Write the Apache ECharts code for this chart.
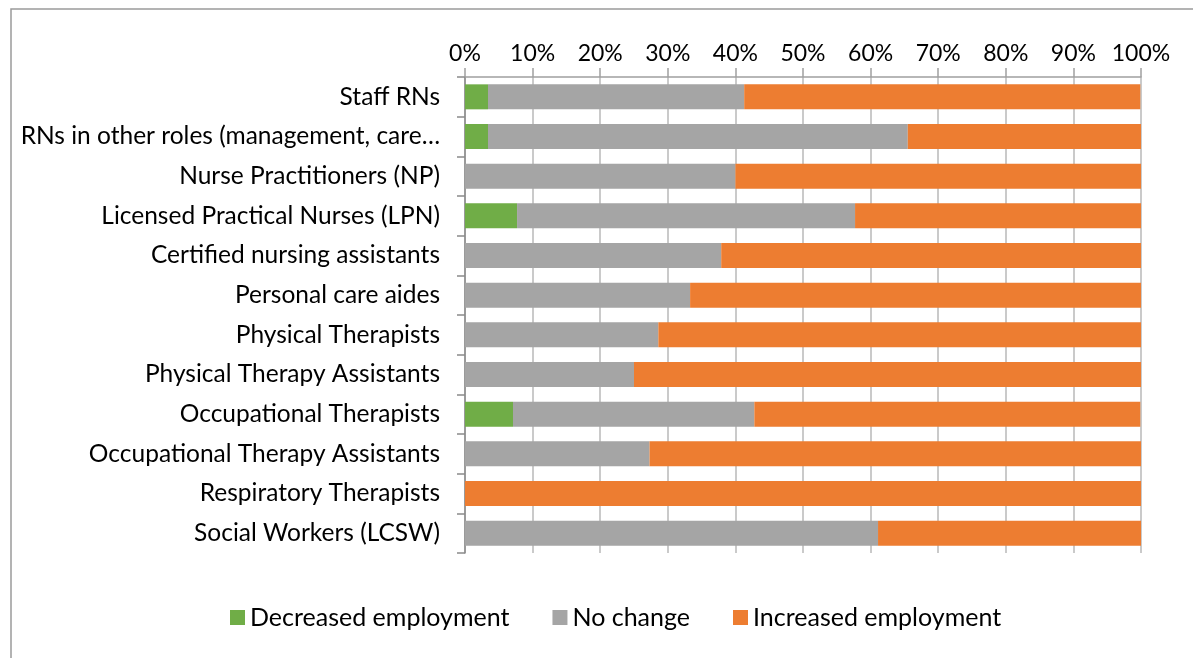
<!DOCTYPE html>
<html>
<head>
<meta charset="utf-8">
<script src="https://cdn.jsdelivr.net/npm/echarts@6/dist/echarts.min.js"></script>
<style>
  html, body { margin: 0; padding: 0; background: #fff; }
  #main { width: 1193px; height: 658px; }
</style>
</head>
<body>
<div id="main"></div>
<script>
var chartDom = document.getElementById('main');
var myChart = echarts.init(chartDom);
var option;

// categories, top to bottom
const roles = [
  'Staff RNs',
  'RNs in other roles (management, care…',
  'Nurse Practitioners (NP)',
  'Licensed Practical Nurses (LPN)',
  'Certified nursing assistants',
  'Personal care aides',
  'Physical Therapists',
  'Physical Therapy Assistants',
  'Occupational Therapists',
  'Occupational Therapy Assistants',
  'Respiratory Therapists',
  'Social Workers (LCSW)'
];
// percent of respondents
const decreased = [3.4, 3.4, 0, 7.7, 0, 0, 0, 0, 7.1, 0, 0, 0];
const noChange = [37.9, 62.1, 40.0, 50.0, 37.9, 33.3, 28.6, 25.0, 35.7, 27.3, 0, 61.1];
const increased = [58.6, 34.5, 60.0, 42.3, 62.1, 66.7, 71.4, 75.0, 57.1, 72.7, 100, 38.9];
const xTicks = [0, 10, 20, 30, 40, 50, 60, 70, 80, 90, 100];

const font = 'Lato, "Open Sans", sans-serif';

function barSeries(name, values, color) {
  return {
    name: name,
    type: 'bar',
    stack: 'all',
    data: values,
    barWidth: 25,
    itemStyle: { color: color },
    emphasis: { disabled: true }
  };
}

option = {
  animation: false,
  backgroundColor: '#fff',
  textStyle: { fontFamily: font },
  graphic: [{
    type: 'rect',
    shape: { x: 11, y: 9, width: 1300, height: 700 },
    style: { fill: 'none', stroke: '#9a9a9a', lineWidth: 1.5 },
    silent: true
  }],
  grid: { left: 465, right: 52, top: 77, bottom: 105 },
  legend: {
    left: 225,
    top: 600,
    icon: 'rect',
    itemWidth: 15,
    itemHeight: 15,
    itemGap: 43,
    textStyle: { fontFamily: font, fontSize: 25, color: '#000' },
    data: ['Decreased employment', 'No change', 'Increased employment']
  },
  xAxis: {
    type: 'value',
    position: 'top',
    min: xTicks[0],
    max: xTicks[xTicks.length - 1],
    interval: xTicks[1] - xTicks[0],
    axisLine: { show: true, lineStyle: { color: '#a0a0a0', width: 1.5 } },
    axisTick: { show: true, length: 9, lineStyle: { color: '#a0a0a0', width: 1.5 } },
    splitLine: { show: true, lineStyle: { color: '#b8b8b8', width: 1.5 } },
    axisLabel: {
      formatter: '{value}%',
      fontFamily: font,
      fontSize: 23,
      color: '#000',
      margin: 12
    }
  },
  yAxis: {
    type: 'category',
    inverse: true,
    data: roles,
    axisLine: { show: true, lineStyle: { color: '#8a8a8a', width: 1.5 } },
    axisTick: { show: true, length: 8, lineStyle: { color: '#8a8a8a', width: 1.5 } },
    axisLabel: {
      fontFamily: font,
      fontSize: 24.5,
      color: '#000',
      margin: 25
    }
  },
  series: [
    barSeries('Decreased employment', decreased, '#70ad47'),
    barSeries('No change', noChange, '#a5a5a5'),
    barSeries('Increased employment', increased, '#ed7d31')
  ]
};

option && myChart.setOption(option);
</script>
</body>
</html>
